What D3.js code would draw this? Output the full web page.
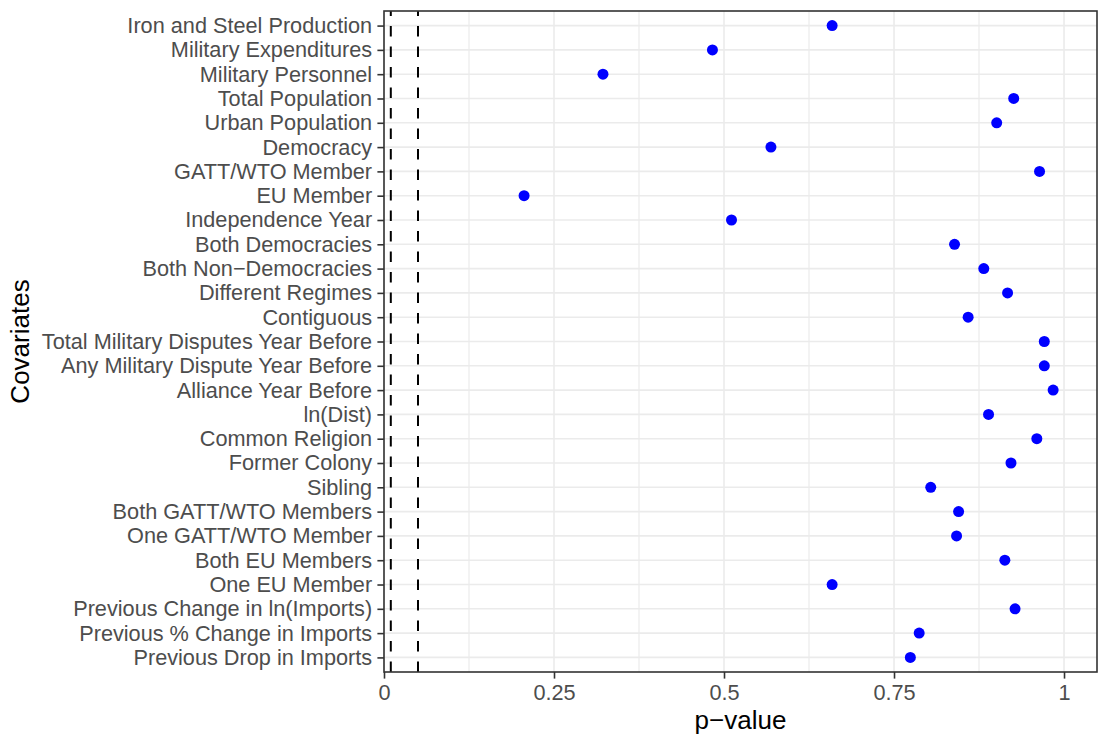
<!DOCTYPE html>
<html>
<head>
<meta charset="utf-8">
<script src="https://cdn.jsdelivr.net/npm/d3@7"></script>
<style>
  body { margin: 0; background: #fff; }
  svg { display: block; }
  text { font-family: "Liberation Sans", Arial, Helvetica, sans-serif; }
</style>
</head>
<body>
<svg id="chart" width="1099" height="740"></svg>
<script>
// ---- data ----
const covariates = [
  "Iron and Steel Production",
  "Military Expenditures",
  "Military Personnel",
  "Total Population",
  "Urban Population",
  "Democracy",
  "GATT/WTO Member",
  "EU Member",
  "Independence Year",
  "Both Democracies",
  "Both Non\u2212Democracies",
  "Different Regimes",
  "Contiguous",
  "Total Military Disputes Year Before",
  "Any Military Dispute Year Before",
  "Alliance Year Before",
  "ln(Dist)",
  "Common Religion",
  "Former Colony",
  "Sibling",
  "Both GATT/WTO Members",
  "One GATT/WTO Member",
  "Both EU Members",
  "One EU Member",
  "Previous Change in ln(Imports)",
  "Previous % Change in Imports",
  "Previous Drop in Imports"
];
const pValues = [
  0.659, 0.483, 0.322, 0.926, 0.901, 0.569, 0.964, 0.206, 0.511,
  0.839, 0.882, 0.917, 0.859, 0.971, 0.971, 0.984, 0.889, 0.960,
  0.922, 0.804, 0.845, 0.842, 0.913, 0.659, 0.928, 0.787, 0.774
];
const thresholds = [0.01, 0.05];
const xMajorTicks = [0, 0.25, 0.5, 0.75, 1];
const xMinorTicks = [0.125, 0.375, 0.625, 0.875];
const xTickLabels = ["0", "0.25", "0.5", "0.75", "1"];
const xDomain = [0, 1.0485];

// ---- layout ----
const svg = d3.select("#chart");
const panel = { left: 384, right: 1097, top: 11, bottom: 672 };

const x = d3.scaleLinear().domain(xDomain).range([panel.left, panel.right]);
const y = d3.scalePoint().domain(covariates).range([panel.top, panel.bottom]).padding(0.6);

const data = covariates.map((c, i) => ({ name: c, p: pValues[i] }));

// background
svg.append("rect").attr("x", panel.left).attr("y", panel.top)
  .attr("width", panel.right - panel.left).attr("height", panel.bottom - panel.top)
  .attr("fill", "#fff");

const grid = svg.append("g");
grid.selectAll("line.minor").data(xMinorTicks).join("line")
  .attr("x1", d => x(d)).attr("x2", d => x(d))
  .attr("y1", panel.top).attr("y2", panel.bottom)
  .attr("stroke", "#ebebeb").attr("stroke-width", 1.2);
grid.selectAll("line.majx").data(xMajorTicks).join("line")
  .attr("x1", d => x(d)).attr("x2", d => x(d))
  .attr("y1", panel.top).attr("y2", panel.bottom)
  .attr("stroke", "#ebebeb").attr("stroke-width", 1.6);
grid.selectAll("line.majy").data(covariates).join("line")
  .attr("x1", panel.left).attr("x2", panel.right)
  .attr("y1", d => y(d)).attr("y2", d => y(d))
  .attr("stroke", "#ebebeb").attr("stroke-width", 1.6);

// threshold dashed lines (drawn from bottom up like R)
svg.append("g").selectAll("line").data(thresholds).join("line")
  .attr("x1", d => x(d)).attr("x2", d => x(d))
  .attr("y1", panel.bottom).attr("y2", panel.top)
  .attr("stroke", "#000").attr("stroke-width", 2)
  .attr("stroke-dasharray", "10.5,10");

// points
svg.append("g").selectAll("circle").data(data).join("circle")
  .attr("cx", d => x(d.p)).attr("cy", d => y(d.name))
  .attr("r", 5.5).attr("fill", "#0000ff");

// panel border
svg.append("rect").attr("x", panel.left).attr("y", panel.top)
  .attr("width", panel.right - panel.left).attr("height", panel.bottom - panel.top)
  .attr("fill", "none").attr("stroke", "#333333").attr("stroke-width", 1.6);

// axes
const xAxis = d3.axisBottom(x).tickValues(xMajorTicks)
  .tickFormat((d, i) => xTickLabels[i]).tickSize(6.6).tickPadding(5.5);
const gx = svg.append("g").attr("transform", `translate(0,${panel.bottom})`).call(xAxis);
gx.select(".domain").remove();
gx.selectAll(".tick line").attr("stroke", "#333333").attr("stroke-width", 1.6);
gx.selectAll(".tick text").attr("fill", "#4d4d4d").style("font-size", "21.7px")
  .style("font-family", "'Liberation Sans', Arial, sans-serif");

const yAxis = d3.axisLeft(y).tickSize(6.6).tickPadding(5.3);
const gy = svg.append("g").attr("transform", `translate(${panel.left},0)`).call(yAxis);
gy.select(".domain").remove();
gy.selectAll(".tick line").attr("stroke", "#333333").attr("stroke-width", 1.6);
gy.selectAll(".tick text").attr("fill", "#4d4d4d").style("font-size", "21.7px")
  .style("font-family", "'Liberation Sans', Arial, sans-serif");

// axis titles
svg.append("text")
  .attr("x", (panel.left + panel.right) / 2).attr("y", 729)
  .attr("text-anchor", "middle").attr("fill", "#000")
  .style("font-size", "26px").text("p\u2212value");

svg.append("text")
  .attr("transform", `translate(29,${(panel.top + panel.bottom) / 2}) rotate(-90)`)
  .attr("text-anchor", "middle").attr("fill", "#000")
  .style("font-size", "26px").text("Covariates");
</script>
</body>
</html>
